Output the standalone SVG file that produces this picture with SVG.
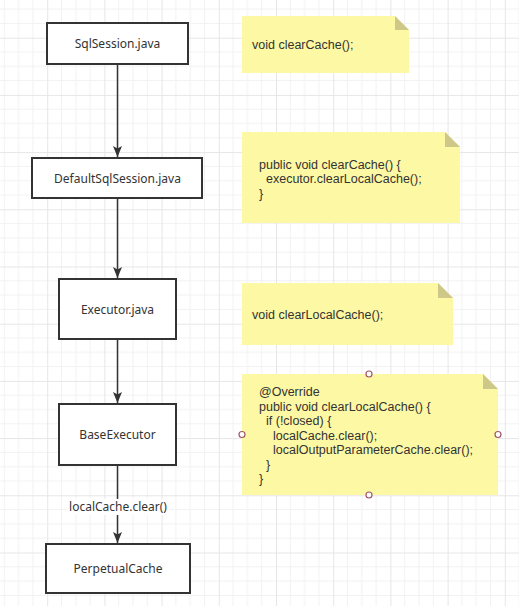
<svg xmlns="http://www.w3.org/2000/svg" width="519" height="606" viewBox="0 0 519 606">
<style>
.node rect{fill:#ffffff;stroke:#333333;stroke-width:2}
.lbl{font-family:"Noto Sans","Liberation Sans",sans-serif;font-size:12px;fill:#333333;text-anchor:middle}
.code{font-family:"Liberation Sans","Noto Sans",sans-serif;font-size:12.5px;fill:#333333}
.notebody{fill:#fdf8a4;stroke:none}
.fold{fill:#cdc788}
.edge{stroke:#333333;stroke-width:1.5;fill:none;marker-end:url(#arr)}
.handle{fill:#ffffff;stroke:#a0566a;stroke-width:1.2}
</style>
<defs>
<pattern id="grid" patternUnits="userSpaceOnUse" x="47.2" y="37.7" width="57.2" height="57.2">
<path d="M14.3 0V57.2M28.6 0V57.2M42.9 0V57.2M0 14.3H57.2M0 28.6H57.2M0 42.9H57.2" stroke="#f2f2f2" stroke-width="1" fill="none"/>
<path d="M0.5 0V57.2M0 0.5H57.2" stroke="#e6e6e6" stroke-width="1" fill="none"/>
</pattern>
<marker id="arr" markerUnits="userSpaceOnUse" markerWidth="12" markerHeight="10" refX="11" refY="4.5" orient="auto">
<path d="M0,0 L11,4.5 L0,9 L2.5,4.5 Z" fill="#333333"/>
</marker>
</defs>
<rect x="0" y="0" width="519" height="606" fill="#ffffff"/>
<rect x="0" y="0" width="519" height="606" fill="url(#grid)"/>

<g id="connectors">
<line class="edge" x1="117.5" y1="64" x2="117.5" y2="157"/>
<line class="edge" x1="117.5" y1="198" x2="117.5" y2="278"/>
<line class="edge" x1="117.5" y1="339" x2="117.5" y2="403"/>
<line class="edge" x1="117.5" y1="465" x2="117.5" y2="543"/>
<rect x="67" y="499" width="102" height="16" fill="#ffffff"/>
<text class="lbl" x="118" y="511">localCache.clear()</text>
</g>

<g id="sqlsession" class="node">
<rect x="47" y="23" width="141" height="41"/>
<text class="lbl" x="117.5" y="48">SqlSession.java</text>
</g>
<g id="defaultsqlsession" class="node">
<rect x="32" y="158" width="170" height="40"/>
<text class="lbl" x="117.5" y="182.5">DefaultSqlSession.java</text>
</g>
<g id="executor" class="node">
<rect x="59" y="279" width="117" height="60"/>
<text class="lbl" x="117.5" y="313.5">Executor.java</text>
</g>
<g id="baseexecutor" class="node">
<rect x="59" y="404" width="117" height="61"/>
<text class="lbl" x="117.5" y="439">BaseExecutor</text>
</g>
<g id="perpetualcache" class="node">
<rect x="46" y="544" width="144" height="49"/>
<text class="lbl" x="118" y="573">PerpetualCache</text>
</g>

<g id="note1">
<path class="notebody" d="M242 16H395L409 30V73H242Z"/>
<path class="fold" d="M395 16V30H409Z"/>
<text class="code" x="252" y="48.5">void clearCache();</text>
</g>
<g id="note2">
<path class="notebody" d="M242 132H445L460 147V223H242Z"/>
<path class="fold" d="M445 132V147H460Z"/>
<text class="code" x="259" y="168.5">public void clearCache() {</text>
<text class="code" x="266" y="183">executor.clearLocalCache();</text>
<text class="code" x="259" y="197.5">}</text>
</g>
<g id="note3">
<path class="notebody" d="M242 283H438L453 298V345H242Z"/>
<path class="fold" d="M438 283V298H453Z"/>
<text class="code" x="252" y="318.5">void clearLocalCache();</text>
</g>
<g id="note4">
<path class="notebody" d="M242 374H483L498 389V495H242Z"/>
<path class="fold" d="M483 374V389H498Z"/>
<text class="code" x="259" y="396">@Override</text>
<text class="code" x="259" y="410.5">public void clearLocalCache() {</text>
<text class="code" x="266" y="425">if (!closed) {</text>
<text class="code" x="273" y="439.5">localCache.clear();</text>
<text class="code" x="273" y="454">localOutputParameterCache.clear();</text>
<text class="code" x="266" y="468.5">}</text>
<text class="code" x="259" y="483">}</text>
<circle class="handle" cx="369" cy="374" r="3"/>
<circle class="handle" cx="242" cy="434.5" r="3"/>
<circle class="handle" cx="498" cy="434.5" r="3"/>
<circle class="handle" cx="369" cy="495" r="3"/>
</g>
</svg>
